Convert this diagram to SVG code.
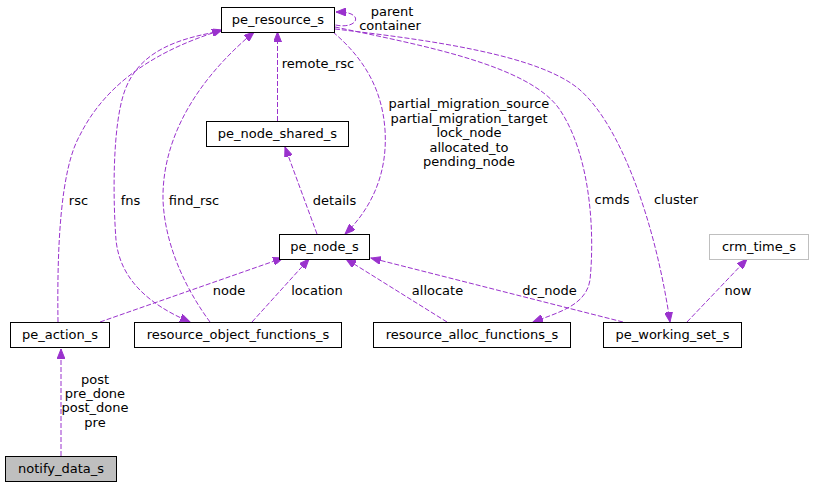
<svg xmlns="http://www.w3.org/2000/svg" width="814" height="488" viewBox="0 0 814 488">
<defs>
<style>
text{font-family:"DejaVu Sans","Liberation Sans",sans-serif;font-size:13px;fill:#000}
.n rect{fill:#fff;stroke:#000;stroke-width:1}
.n text{text-anchor:middle}
.e path{fill:none;stroke:#9a32cd;stroke-width:1;stroke-dasharray:5,2;marker-end:url(#ah)}
.lbl text{text-anchor:middle}
</style>
<marker id="ah" markerUnits="userSpaceOnUse" markerWidth="11" markerHeight="8" refX="10" refY="4" orient="auto" viewBox="0 0 11 8">
<path d="M0,0 L10,4 L0,8 z" fill="#9a32cd" stroke="#9a32cd" stroke-width="1"/>
</marker>
</defs>
<rect width="814" height="488" fill="#fff"/>
<g id="connectors" class="e">
<path d="M61,456 L61,349"/>
<path d="M58,322 C57,250 60,170 80,135 C100,95 140,55 222,30"/>
<path d="M222,31 C180,38 140,50 125,90 C112,125 113,200 116,240 C120,280 150,305 190,322"/>
<path d="M210,322 C190,295 165,250 163,200 C162,150 185,90 254,32"/>
<path d="M277.5,121 L277.5,32"/>
<path d="M317,234 L285,147"/>
<path d="M333,32 C360,55 382,85 385,130 C388,175 370,210 345,234"/>
<path d="M335.5,25 C350,28 358,22 355,17 C352,13 346,12 336,12"/>
<path d="M335,27 C420,45 530,65 560,110 C590,155 595,230 590,280 C586,305 560,312 533,322"/>
<path d="M335,29 C430,40 540,55 580,90 C620,125 655,220 670,322"/>
<path d="M100,322 L283,258"/>
<path d="M252,322 L309,259"/>
<path d="M447,322 L346,259"/>
<path d="M623,322 L371,258"/>
<path d="M687,322 L747,259"/>
</g>
<g id="edge-labels" class="lbl">
<text x="95" y="384">post</text>
<text x="95" y="398">pre_done</text>
<text x="95" y="412">post_done</text>
<text x="95" y="427">pre</text>
<text x="78.5" y="205">rsc</text>
<text x="130.5" y="205">fns</text>
<text x="194" y="205">find_rsc</text>
<text x="318" y="68">remote_rsc</text>
<text x="334.5" y="205">details</text>
<text x="469" y="108">partial_migration_source</text>
<text x="469" y="123">partial_migration_target</text>
<text x="469" y="137">lock_node</text>
<text x="469" y="152">allocated_to</text>
<text x="469" y="166">pending_node</text>
<text x="392" y="16">parent</text>
<text x="390" y="30">container</text>
<text x="612" y="204">cmds</text>
<text x="676" y="204">cluster</text>
<text x="229" y="295">node</text>
<text x="317" y="295">location</text>
<text x="437.5" y="295">allocate</text>
<text x="549.5" y="295">dc_node</text>
<text x="738" y="295">now</text>
</g>
<g id="pe_resource_s" class="n"><rect x="221.5" y="7.5" width="113" height="25"/><text x="278" y="24">pe_resource_s</text></g>
<g id="pe_node_shared_s" class="n"><rect x="206.5" y="121.5" width="142" height="25"/><text x="277.5" y="138">pe_node_shared_s</text></g>
<g id="pe_node_s" class="n"><rect x="279.5" y="234.5" width="90" height="25"/><text x="324.5" y="251">pe_node_s</text></g>
<g id="pe_action_s" class="n"><rect x="10.5" y="322.5" width="99" height="25"/><text x="60" y="339">pe_action_s</text></g>
<g id="resource_object_functions_s" class="n"><rect x="134.5" y="322.5" width="207" height="25"/><text x="238" y="339">resource_object_functions_s</text></g>
<g id="resource_alloc_functions_s" class="n"><rect x="373.5" y="322.5" width="197" height="25"/><text x="472" y="339">resource_alloc_functions_s</text></g>
<g id="pe_working_set_s" class="n"><rect x="603.5" y="322.5" width="138" height="25"/><text x="672.5" y="339">pe_working_set_s</text></g>
<g id="crm_time_s" class="n"><rect x="709.5" y="234.5" width="99" height="25" style="stroke:#bfbfbf"/><text x="759" y="251">crm_time_s</text></g>
<g id="notify_data_s" class="n"><rect x="5.5" y="456.5" width="111" height="25" style="fill:#bfbfbf"/><text x="61" y="473">notify_data_s</text></g>
</svg>
